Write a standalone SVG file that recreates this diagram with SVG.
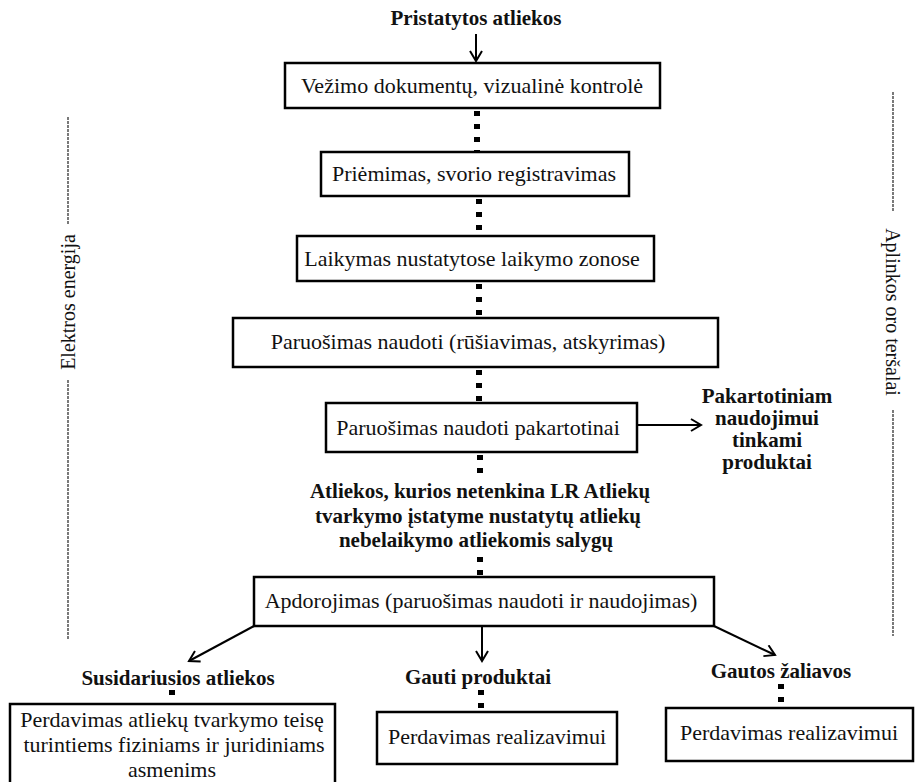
<svg xmlns="http://www.w3.org/2000/svg" width="918" height="782" viewBox="0 0 918 782">
<defs>
<style>
.box{fill:#fff;stroke:#000;stroke-width:2.5}
.t{font-family:"Liberation Serif","Times New Roman",serif;font-size:22px;fill:#111;text-anchor:middle}
.b{font-family:"Liberation Serif","Times New Roman",serif;font-size:21px;font-weight:bold;fill:#111;text-anchor:middle}
.s{font-family:"Liberation Serif","Times New Roman",serif;font-size:20px;fill:#111;text-anchor:middle}
.dot{stroke:#000;stroke-width:6;stroke-dasharray:5 8;fill:none}
.arr{stroke:#000;stroke-width:2;fill:none;marker-end:url(#ah)}
.side{stroke:#222;stroke-width:1.2;stroke-dasharray:3 1;fill:none}
</style>
<marker id="ah" markerWidth="14" markerHeight="14" refX="11" refY="7" orient="auto" markerUnits="userSpaceOnUse">
<path d="M1,1 L11,7 L1,13" fill="none" stroke="#000" stroke-width="2"/>
</marker>
</defs>
<rect width="918" height="782" fill="#fff"/>

<g id="connectors">
<line class="arr" x1="476" y1="34" x2="476" y2="61"/>
<line class="dot" x1="477" y1="111" x2="477" y2="152"/>
<line class="dot" x1="479" y1="199" x2="479" y2="236"/>
<line class="dot" x1="479" y1="284" x2="479" y2="318"/>
<line class="dot" x1="479" y1="370" x2="479" y2="403"/>
<line class="arr" x1="637" y1="425" x2="701" y2="425"/>
<line class="dot" x1="480" y1="455" x2="480" y2="478"/>
<line class="dot" x1="480" y1="557" x2="480" y2="577"/>
<line class="arr" x1="254" y1="626" x2="189" y2="661"/>
<line class="arr" x1="482" y1="626" x2="482" y2="661"/>
<line class="arr" x1="714" y1="626" x2="775" y2="655"/>
<line class="dot" x1="172" y1="690" x2="172" y2="704"/>
<line class="dot" x1="481" y1="690" x2="481" y2="712"/>
<line class="dot" x1="781" y1="684" x2="781" y2="708"/>
</g>

<g id="title"><text class="b" x="476" y="25">Pristatytos atliekos</text></g>

<g id="n1"><rect class="box" x="285" y="63" width="375" height="45"/><text class="t" x="472" y="93">Vežimo dokumentų, vizualinė kontrolė</text></g>
<g id="n2"><rect class="box" x="321" y="152" width="308" height="44"/><text class="t" x="474" y="181">Priėmimas, svorio registravimas</text></g>
<g id="n3"><rect class="box" x="297" y="236" width="357" height="45"/><text class="t" x="472" y="266">Laikymas nustatytose laikymo zonose</text></g>
<g id="n4"><rect class="box" x="233" y="318" width="485" height="49"/><text class="t" x="468" y="349">Paruošimas naudoti (rūšiavimas, atskyrimas)</text></g>
<g id="n5"><rect class="box" x="326" y="403" width="311" height="49"/><text class="t" x="478" y="435">Paruošimas naudoti pakartotinai</text></g>
<g id="n5out"><text class="b" x="767" y="403">Pakartotiniam</text><text class="b" x="767" y="425">naudojimui</text><text class="b" x="767" y="447">tinkami</text><text class="b" x="767" y="469">produktai</text></g>
<g id="cond"><text class="b" x="480" y="498">Atliekos, kurios netenkina LR Atliekų</text><text class="b" x="478" y="523">tvarkymo įstatyme nustatytų atliekų</text><text class="b" x="476" y="547">nebelaikymo atliekomis salygų</text></g>
<g id="n6"><rect class="box" x="254" y="577" width="460" height="49"/><text class="t" x="481" y="608">Apdorojimas (paruošimas naudoti ir naudojimas)</text></g>

<g id="l1"><text class="b" x="178" y="685">Susidariusios atliekos</text></g>
<g id="l2"><text class="b" x="478" y="684">Gauti produktai</text></g>
<g id="l3"><text class="b" x="781" y="678">Gautos žaliavos</text></g>

<g id="n7"><rect class="box" x="10" y="704" width="325" height="90"/><text class="t" x="172" y="727">Perdavimas atliekų tvarkymo teisę</text><text class="t" x="174" y="752">turintiems fiziniams ir juridiniams</text><text class="t" x="172" y="777">asmenims</text></g>
<g id="n8"><rect class="box" x="377" y="712" width="240" height="52"/><text class="t" x="497" y="744">Perdavimas realizavimui</text></g>
<g id="n9"><rect class="box" x="666" y="708" width="247" height="53"/><text class="t" x="789" y="740">Perdavimas realizavimui</text></g>

<g id="left">
<line class="side" x1="68" y1="117" x2="68" y2="225"/>
<text class="s" transform="translate(75,302) rotate(-90)" x="0" y="0">Elektros energija</text>
<line class="side" x1="68" y1="380" x2="68" y2="640"/>
</g>
<g id="right">
<line class="side" x1="893" y1="92" x2="893" y2="212"/>
<text class="s" transform="translate(886,312) rotate(90)" x="0" y="0">Aplinkos oro teršalai</text>
<line class="side" x1="893" y1="410" x2="893" y2="636"/>
</g>
</svg>
